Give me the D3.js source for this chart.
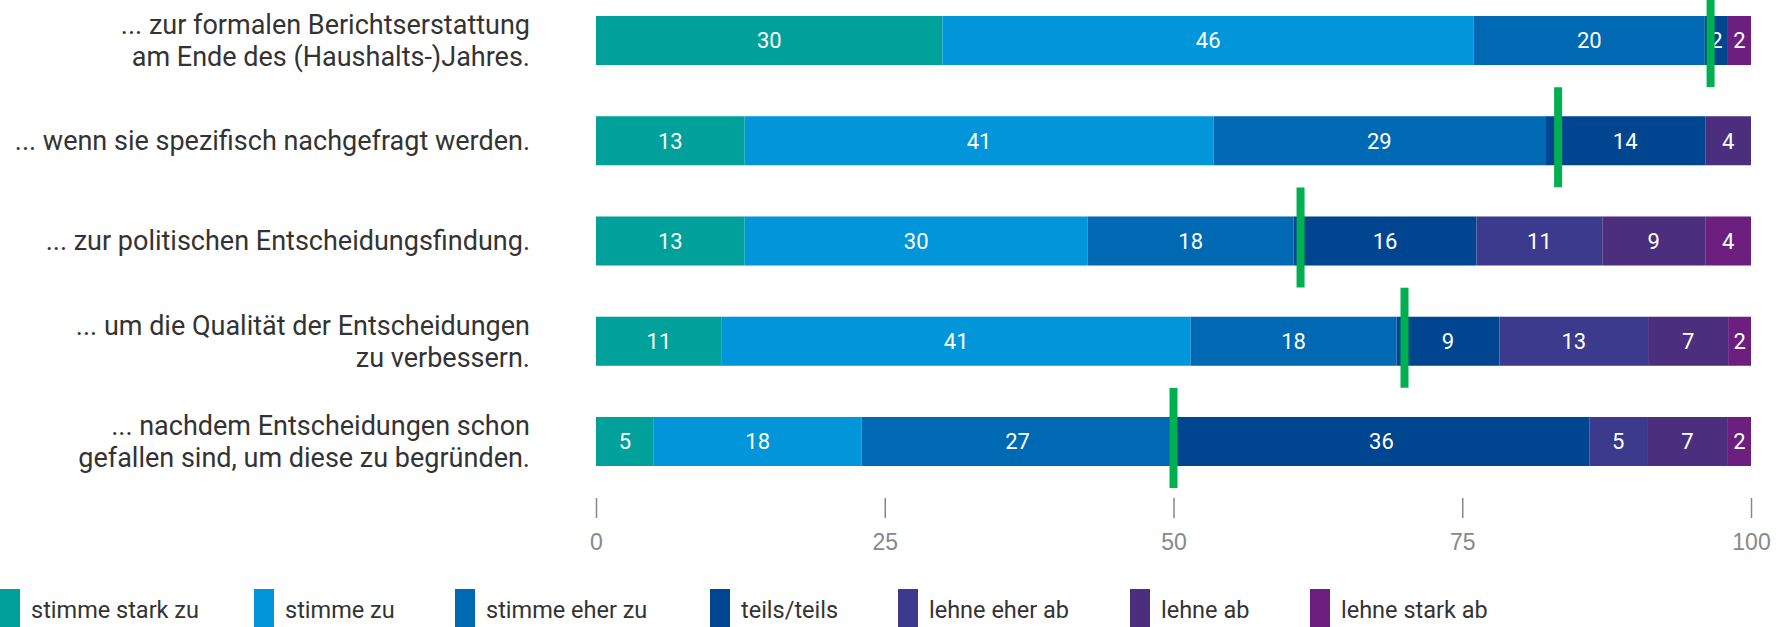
<html>
<head>
  <meta charset="utf-8">
  <script src="https://cdn.jsdelivr.net/npm/d3@7"></script>
  <style>
    body { margin: 0; background: #fff; }
    svg { display: block; font-family: Roboto, "Liberation Sans", sans-serif; }
  </style>
</head>
<body>
  <div id="content"></div>
  <script>
    // questions (y categories)
    const categories = [
      "... zur formalen Berichtserstattung\nam Ende des (Haushalts-)Jahres.",
      "... wenn sie spezifisch nachgefragt werden.",
      "... zur politischen Entscheidungsfindung.",
      "... um die Qualität der Entscheidungen\nzu verbessern.",
      "... nachdem Entscheidungen schon\ngefallen sind, um diese zu begründen."
    ]

    const seriesNames = ["stimme stark zu", "stimme zu", "stimme eher zu", "teils/teils",
                         "lehne eher ab", "lehne ab", "lehne stark ab"]
    const seriesColors = ["#00a19b", "#0096d9", "#0069b3", "#00458f", "#3b3a8d", "#4b2f7e", "#6d1f7f"]

    // answer shares in %, one array per answer
    const stimmeStarkZu = [30, 13, 13, 11, 5]
    const stimmeZu      = [46, 41, 30, 41, 18]
    const stimmeEherZu  = [20, 29, 18, 18, 27]
    const teilsTeils    = [2, 14, 16, 9, 36]
    const lehneEherAb   = [0, 0, 11, 13, 5]
    const lehneAb       = [0, 4, 9, 7, 7]
    const lehneStarkAb  = [2, 0, 4, 2, 2]

    // green marker (share of agreement)
    const agreeMarker = [96.5, 83.3, 61, 70, 50]

    const tickValues = [0, 25, 50, 75, 100]

    const width = 1776, height = 627
    const legendX = [0, 254, 455, 710, 898, 1130, 1310]

    const seriesValues = [stimmeStarkZu, stimmeZu, stimmeEherZu, teilsTeils, lehneEherAb, lehneAb, lehneStarkAb]
    const rows = categories.map((c, i) => {
      const r = {cat: c}
      seriesNames.forEach((s, j) => r[s] = seriesValues[j][i])
      return r
    })

    const stacked = d3.stack()
      .keys(seriesNames)
      .offset(d3.stackOffsetExpand)(rows)

    const x = d3.scaleLinear().domain([0, 100]).range([596, 1751])
    const y = d3.scaleBand().domain(categories).range([16, 466]).paddingInner(0.511).paddingOuter(0)
    const color = d3.scaleOrdinal().domain(seriesNames).range(seriesColors)

    const svg = d3.select("#content").append("svg")
      .attr("width", width)
      .attr("height", height)

    // bars
    const layer = svg.append("g")
      .selectAll("g")
      .data(stacked)
      .join("g")
      .attr("fill", d => color(d.key))

    layer.selectAll("rect")
      .data(d => d)
      .join("rect")
      .attr("x", d => x(d[0] * 100))
      .attr("y", d => y(d.data.cat))
      .attr("width", d => x(d[1] * 100) - x(d[0] * 100))
      .attr("height", y.bandwidth())

    // numbers in bars
    layer.selectAll("text")
      .data(d => d.map(v => Object.assign(v, {key: d.key})))
      .join("text")
      .filter(d => d.data[d.key] > 0)
      .attr("x", d => (x(d[0] * 100) + x(d[1] * 100)) / 2)
      .attr("y", d => y(d.data.cat) + y.bandwidth() / 2)
      .attr("dy", "0.36em")
      .attr("text-anchor", "middle")
      .attr("fill", "#fff")
      .attr("font-size", 22)
      .text(d => d.data[d.key])

    // category labels
    const labels = svg.append("g")
      .attr("font-size", 27)
      .attr("fill", "#333")
      .attr("text-anchor", "end")
      .selectAll("text")
      .data(categories)
      .join("text")
      .attr("x", 530)
      .attr("y", d => y(d) + y.bandwidth() / 2)

    labels.selectAll("tspan")
      .data(d => {
        const lines = d.split("\n")
        return lines.map((l, i) => ({l, off: i - (lines.length - 1) / 2}))
      })
      .join("tspan")
      .attr("x", 530)
      .attr("dy", (d, i) => i == 0 ? `${d.off * 1.18 + 0.35}em` : "1.18em")
      .text(d => d.l)

    // green markers
    svg.append("g")
      .attr("fill", "#00b050")
      .selectAll("rect")
      .data(categories)
      .join("rect")
      .attr("x", (d, i) => x(agreeMarker[i]) - 4)
      .attr("y", d => y(d) - 29)
      .attr("width", 8)
      .attr("height", 100)

    // axis
    const axis = svg.append("g")
      .attr("transform", "translate(0,498)")
      .call(d3.axisBottom(x).tickValues(tickValues).tickSize(20).tickPadding(16))
    axis.select(".domain").remove()
    axis.selectAll(".tick line").attr("stroke", "#888").attr("stroke-width", 1.5)
    axis.selectAll(".tick text")
      .attr("fill", "#888")
      .attr("font-size", 23)
      .attr("font-family", null)

    // legend
    const legend = svg.append("g")
      .selectAll("g")
      .data(seriesNames)
      .join("g")
      .attr("transform", (d, i) => `translate(${legendX[i]},589)`)

    legend.append("rect")
      .attr("width", 20)
      .attr("height", 40)
      .attr("fill", d => color(d))

    legend.append("text")
      .attr("x", 31)
      .attr("y", 21)
      .attr("dy", "0.35em")
      .attr("font-size", 23.5)
      .attr("fill", "#333")
      .text(d => d)
  </script>
</body>
</html>
